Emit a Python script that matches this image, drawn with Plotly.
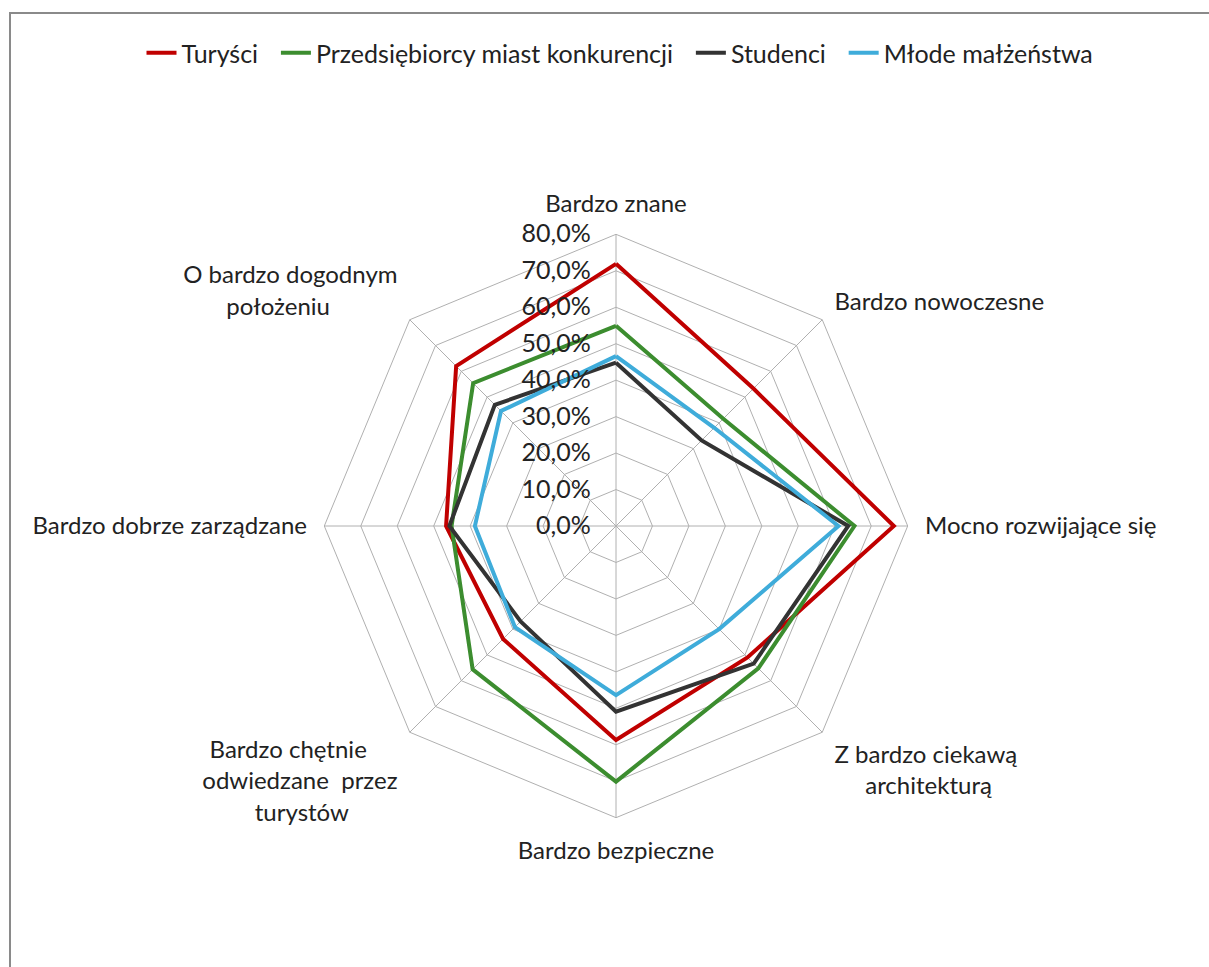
import plotly.graph_objects as go

NB = "\u00a0"

categories = [
    "Bardzo znane",
    "Bardzo nowoczesne",
    "Mocno rozwijające się",
    "Z bardzo ciekawą<br>" + NB * 5 + "architekturą",
    "Bardzo bezpieczne",
    "Bardzo chętnie" + NB * 5 + "<br>odwiedzane  przez<br>turystów" + NB * 8,
    "Bardzo dobrze zarządzane",
    "O bardzo dogodnym<br>położeniu" + NB * 11,
]

series_names = ["Turyści", "Przedsiębiorcy miast konkurencji", "Studenci", "Młode małżeństwa"]
turysci = [0.719, 0.533, 0.762, 0.510, 0.587, 0.438, 0.466, 0.620]
przedsiebiorcy = [0.549, 0.416, 0.654, 0.552, 0.701, 0.556, 0.451, 0.554]
studenci = [0.448, 0.332, 0.637, 0.534, 0.509, 0.370, 0.457, 0.470]
malzenstwa = [0.466, 0.381, 0.610, 0.400, 0.464, 0.392, 0.387, 0.446]
series_values = [turysci, przedsiebiorcy, studenci, malzenstwa]
colors = ["#C00000", "#3C8D2F", "#333333", "#3FACDA"]

tick_vals = [0.0, 0.1, 0.2, 0.3, 0.4, 0.5, 0.6, 0.7, 0.8]

fig = go.Figure()
for i, (name, vals, col) in enumerate(zip(series_names, series_values, colors)):
    pad = NB * 2 if i < len(series_names) - 1 else ""
    fig.add_trace(go.Scatterpolar(
        r=vals + vals[:1],
        theta=categories + categories[:1],
        mode="lines",
        name=name + pad,
        line=dict(color=col, width=4),
    ))

W, H = 1209, 967
cx, cy, R = 616, 526, 291.7

fig.update_layout(
    width=W, height=H,
    margin=dict(l=0, r=0, t=0, b=0),
    paper_bgcolor="white",
    plot_bgcolor="white",
    separators=", ",
    font=dict(family="Lato, 'Noto Sans', sans-serif", size=24, color="#222222"),
    showlegend=True,
    legend=dict(
        orientation="h",
        x=620 / W, xanchor="center",
        y=1 - 53 / H, yanchor="middle",
        font=dict(size=25),
        tracegroupgap=0,
    ),
    polar=dict(
        domain=dict(x=[(cx - R) / W, (cx + R) / W], y=[1 - (cy + R) / H, 1 - (cy - R) / H]),
        bgcolor="white",
        gridshape="linear",
        radialaxis=dict(
            range=[0, 0.8],
            tickvals=tick_vals,
            tickformat=".1%",
            angle=90,
            tickangle=90,
            side="counterclockwise",
            showline=False,
            gridcolor="#B0B0B0",
            gridwidth=1,
            ticks="outside",
            ticklen=16,
            tickcolor="rgba(0,0,0,0)",
            tickfont=dict(size=25, color="#222222"),
        ),
        angularaxis=dict(
            direction="clockwise",
            rotation=90,
            gridcolor="#B0B0B0",
            gridwidth=1,
            linecolor="#B0B0B0",
            linewidth=1,
            ticks="outside",
            ticklen=12,
            tickcolor="rgba(0,0,0,0)",
            tickfont=dict(size=24, color="#222222"),
        ),
    ),
    shapes=[dict(
        type="rect", xref="paper", yref="paper",
        x0=10 / W, x1=1.02, y0=-0.02, y1=1 - 13 / H,
        line=dict(color="#8A8A8A", width=2),
        fillcolor="rgba(0,0,0,0)",
    )],
)

fig.write_html("out.html")
